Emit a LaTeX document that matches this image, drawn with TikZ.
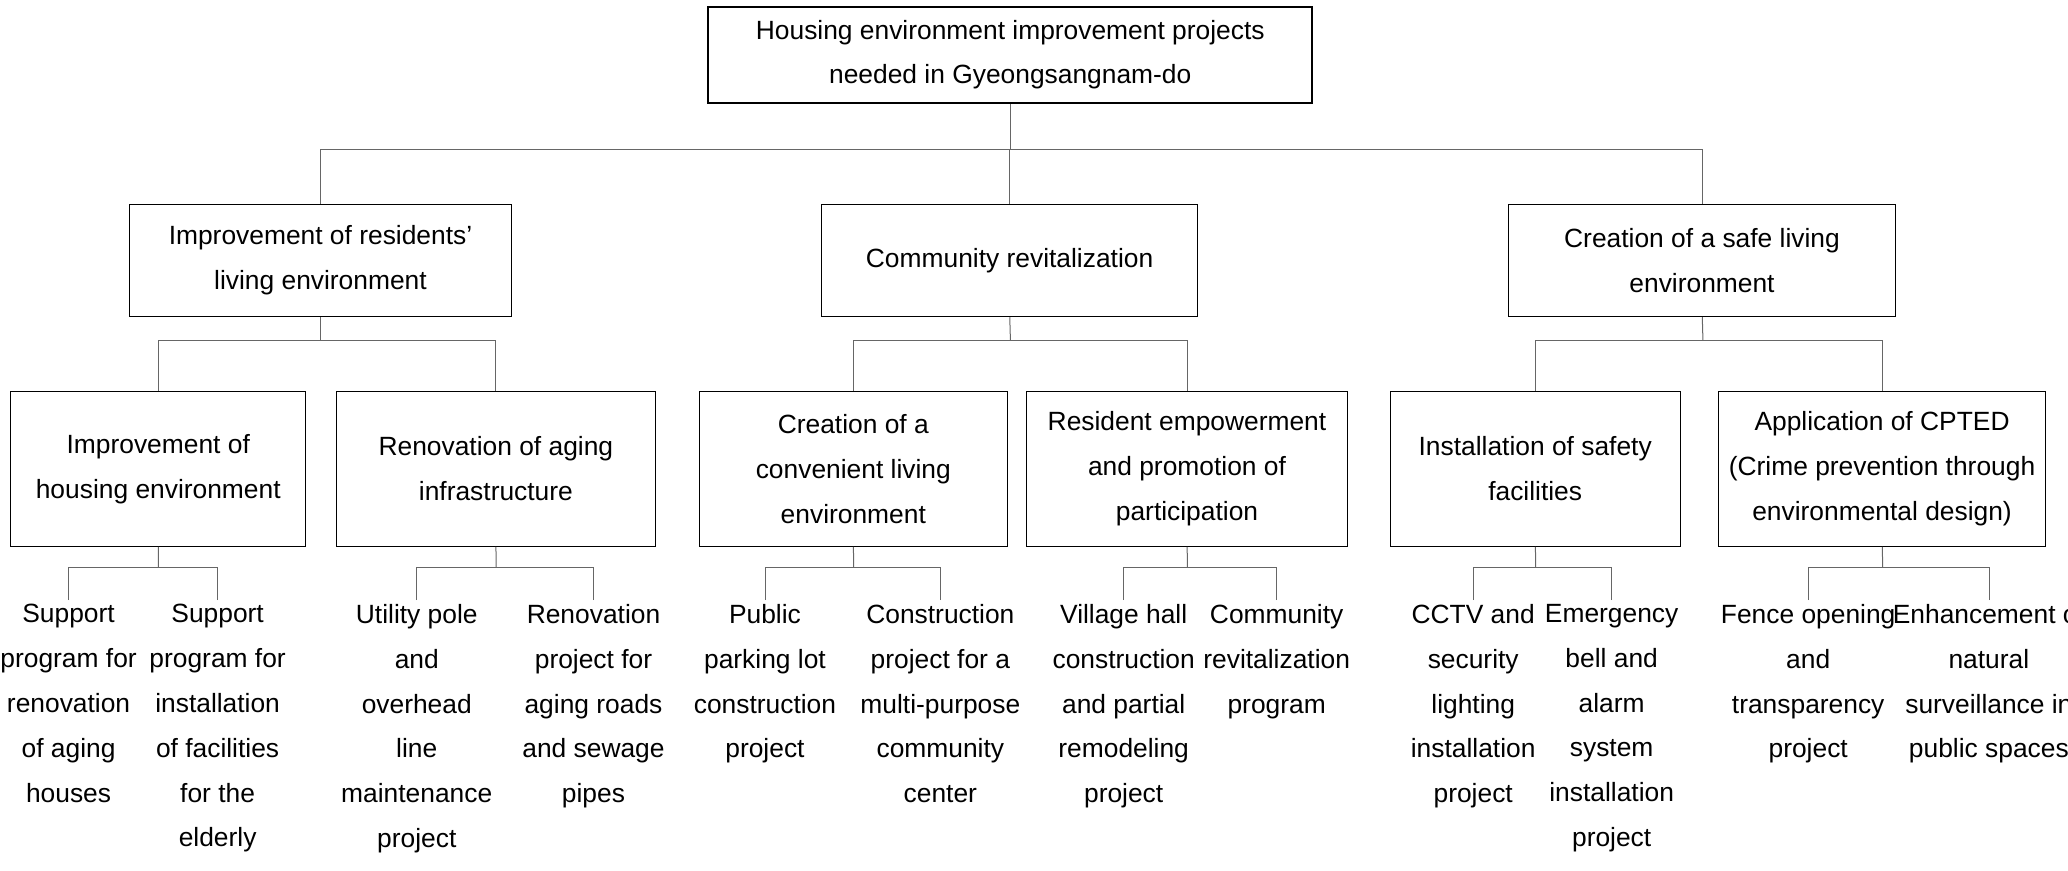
\documentclass[tikz,border=0pt]{standalone}
\usepackage{fontspec}
\setmainfont{Liberation Sans}
\usetikzlibrary{positioning}
\tikzset{font={\fontsize{20pt}{34pt}\selectfont}}
\tikzset{
  topbox/.style={draw,line width=2pt,minimum width=458pt,minimum height=73pt,align=center,inner sep=2pt},
  midbox/.style={draw,line width=1pt,minimum height=85pt,align=center,inner sep=2pt},
  subbox/.style={draw,line width=1pt,minimum height=117pt,align=center,inner sep=2pt},
  leaf/.style={anchor=north,align=center,inner sep=3pt},
  link/.style={draw=black!60,line width=1pt}
}
\begin{document}
\begin{tikzpicture}[x=1pt,y=-1pt,scale=1.319,every node/.append style={transform shape}]
  \useasboundingbox (0,0) rectangle (1568,660);
  % top
  \node[topbox] (root) at (766,41.5) {Housing environment improvement projects\\needed in Gyeongsangnam-do};
  % second level
  \node[midbox,minimum width=290pt] (lv) at (243,197.5) {Improvement of residents'\\living environment};
  \node[midbox,minimum width=285pt] (cr) at (765.5,197.5) {Community revitalization};
  \node[midbox,minimum width=293pt] (sl) at (1290.5,197.5) {Creation of a safe living\\environment};
  % third level
  \node[subbox,minimum width=224pt] (hous) at (120,355.5) {Improvement of\\housing environment};
  \node[subbox,minimum width=242pt] (infra) at (376,355.5) {Renovation of aging\\infrastructure};
  \node[subbox,minimum width=234pt] (conv) at (647,355.5) {Creation of a\\convenient living\\environment};
  \node[subbox,minimum width=244pt] (emp) at (900,355.5) {Resident empowerment\\and promotion of\\participation};
  \node[subbox,minimum width=220pt] (safe) at (1164,355.5) {Installation of safety\\facilities};
  \node[subbox,minimum width=248pt] (cpted) at (1427,355.5) {Application of CPTED\\(Crime prevention through\\environmental design)};
  % leaves
  \node[leaf] (h1) at (52,455) {Support\\program for\\renovation\\of aging\\houses};
  \node[leaf] (h2) at (165,455) {Support\\program for\\installation\\of facilities\\for the\\elderly};
  \node[leaf] (i1) at (316,455) {Utility pole\\and\\overhead\\line\\maintenance\\project};
  \node[leaf] (i2) at (450,455) {Renovation\\project for\\aging roads\\and sewage\\pipes};
  \node[leaf] (c1) at (580,455) {Public\\parking lot\\construction\\project};
  \node[leaf] (c2) at (713,455) {Construction\\project for a\\multi-purpose\\community\\center};
  \node[leaf] (e1) at (852,455) {Village hall\\construction\\and partial\\remodeling\\project};
  \node[leaf] (e2) at (968,455) {Community\\revitalization\\program};
  \node[leaf] (s1) at (1117,455) {CCTV and\\security\\lighting\\installation\\project};
  \node[leaf] (s2) at (1222,455) {Emergency\\bell and\\alarm\\system\\installation\\project};
  \node[leaf] (p1) at (1371,455) {Fence opening\\and\\transparency\\project};
  \node[leaf] (p2) at (1508,455) {Enhancement of\\natural\\surveillance in\\public spaces};
  % junctions
  \coordinate (jroot) at (766,113);
  \coordinate (jlv) at (243,258);
  \coordinate (jcr) at (766,258);
  \coordinate (jsl) at (1291,258);
  \foreach \b/\y in {hous/430,infra/430,conv/430,emp/430,safe/430,cpted/430}
    \coordinate (j\b) at (\b.south |- 0,\y);
  % connectors
  \draw[link] (root.south) -- (jroot);
  \foreach \c in {lv,cr,sl} \draw[link] (\c.north) |- (jroot);
  \draw[link] (lv.south) -- (jlv);
  \draw[link] (cr.south) -- (jcr);
  \draw[link] (sl.south) -- (jsl);
  \foreach \c in {hous,infra} \draw[link] (\c.north) |- (jlv);
  \foreach \c in {conv,emp} \draw[link] (\c.north) |- (jcr);
  \foreach \c in {safe,cpted} \draw[link] (\c.north) |- (jsl);
  \foreach \p/\a/\b in {hous/h1/h2,infra/i1/i2,conv/c1/c2,emp/e1/e2,safe/s1/s2,cpted/p1/p2}{
    \draw[link] (\p.south) -- (j\p);
    \draw[link] (\a.north) |- (j\p);
    \draw[link] (\b.north) |- (j\p);
  }
\end{tikzpicture}
\end{document}
